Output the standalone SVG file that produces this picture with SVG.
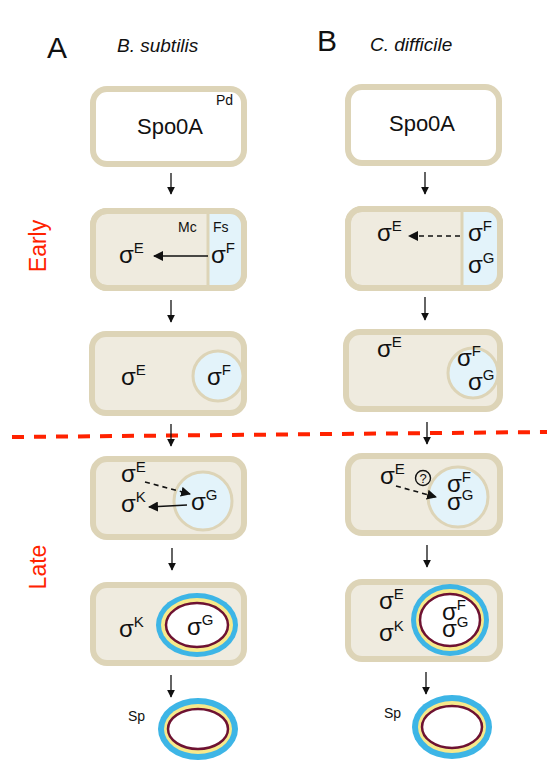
<svg xmlns="http://www.w3.org/2000/svg" width="547" height="762" viewBox="0 0 547 762">
  <defs>
    <style>
      .cell { fill: #efebdf; stroke: #ddd4b7; stroke-width: 6; }
      .cell-white { fill: #ffffff; stroke: #ddd4b7; stroke-width: 6; }
      .fs { fill: #e3f3fa; stroke: #ddd4b7; stroke-width: 3; }
      .div { stroke: #ddd4b7; stroke-width: 3; }
      .t { font-family: "Liberation Sans", Arial, sans-serif; fill: #111; }
      .sig { font-family: "Liberation Sans", Arial, sans-serif; font-size: 24px; fill: #111; }
      .sup { font-size: 15px; }
      .lbl { font-family: "Liberation Sans", Arial, sans-serif; font-size: 14px; fill: #111; }
      .step { stroke: #111; stroke-width: 1.3; fill: none; }
      .solid { stroke: #111; stroke-width: 1.6; fill: none; }
      .dash { stroke: #111; stroke-width: 1.6; fill: none; stroke-dasharray: 5 4; }
      .coat { fill: #3db5e6; }
      .cortex { fill: #f7e98b; }
      .core { fill: #ffffff; stroke: #6e1232; stroke-width: 2.5; }
      .phase { font-family: "Liberation Sans", Arial, sans-serif; font-size: 23px; fill: #ff2200; }
    </style>
    <marker id="head" viewBox="0 0 10 10" refX="9" refY="5" markerWidth="8" markerHeight="8" markerUnits="userSpaceOnUse" orient="auto">
      <path d="M0,0 L10,5 L0,10 Z" fill="#111"/>
    </marker>
    <marker id="head2" viewBox="0 0 10 10" refX="9" refY="5" markerWidth="10" markerHeight="10" markerUnits="userSpaceOnUse" orient="auto">
      <path d="M0,0 L10,5 L0,10 Z" fill="#111"/>
    </marker>
    <clipPath id="clipA2"><rect x="93" y="211" width="151" height="77" rx="14"/></clipPath>
    <clipPath id="clipB2"><rect x="348" y="209" width="152" height="79" rx="14"/></clipPath>
  </defs>

  <!-- headers -->
  <text class="t" x="47" y="58" font-size="30">A</text>
  <text class="t" x="117" y="52" font-size="19" font-style="italic">B. subtilis</text>
  <text class="t" x="317" y="51" font-size="30">B</text>
  <text class="t" x="370" y="51" font-size="19" font-style="italic">C. difficile</text>

  <!-- phase labels -->
  <text class="phase" transform="translate(46,246) rotate(-90)" text-anchor="middle">Early</text>
  <text class="phase" transform="translate(46,567) rotate(-90)" text-anchor="middle">Late</text>

  <!-- early / late boundary -->
  <line x1="12" y1="437" x2="547" y2="432" stroke="#ff2200" stroke-width="4" stroke-dasharray="12 10"/>

  <!-- column A: B. subtilis -->
  <g id="a-predivisional">
    <rect class="cell-white" x="93" y="89" width="151" height="75" rx="14"/>
    <text class="t" x="170" y="134" font-size="22" text-anchor="middle">Spo0A</text>
    <text class="lbl" x="216" y="105">Pd</text>
  </g>

  <g id="a-septation">
    <rect class="cell" x="93" y="211" width="151" height="77" rx="14"/>
    <rect x="208" y="205" width="42" height="90" fill="#e3f3fa" clip-path="url(#clipA2)"/>
    <rect x="93" y="211" width="151" height="77" rx="14" fill="none" stroke="#ddd4b7" stroke-width="6"/>
    <line class="div" x1="208" y1="212" x2="208" y2="287"/>
    <text class="lbl" x="178" y="232">Mc</text>
    <text class="lbl" x="213" y="232">Fs</text>
    <text class="sig" x="119" y="263">σ<tspan class="sup" dy="-10">E</tspan></text>
    <text class="sig" x="211" y="263">σ<tspan class="sup" dy="-10">F</tspan></text>
  </g>

  <g id="a-engulfment">
    <rect class="cell" x="92" y="334" width="152" height="79" rx="14"/>
    <circle class="fs" cx="218" cy="376" r="25"/>
    <text class="sig" x="121" y="385">σ<tspan class="sup" dy="-10">E</tspan></text>
    <text class="sig" x="207" y="385">σ<tspan class="sup" dy="-10">F</tspan></text>
  </g>

  <g id="a-engulfed">
    <rect class="cell" x="93" y="459" width="151" height="78" rx="14"/>
    <circle class="fs" cx="203" cy="501" r="29"/>
    <text class="sig" x="121" y="482">σ<tspan class="sup" dy="-10">E</tspan></text>
    <text class="sig" x="121" y="512">σ<tspan class="sup" dy="-10">K</tspan></text>
    <text class="sig" x="191" y="510">σ<tspan class="sup" dy="-10">G</tspan></text>
  </g>

  <g id="a-maturation">
    <rect class="cell" x="93" y="585" width="151" height="78" rx="14"/>
    <ellipse class="coat" cx="197" cy="625" rx="41" ry="32"/>
    <ellipse class="cortex" cx="197" cy="625" rx="36" ry="27"/>
    <ellipse class="core" cx="197" cy="625" rx="31" ry="22"/>
    <text class="sig" x="119" y="637">σ<tspan class="sup" dy="-10">K</tspan></text>
    <text class="sig" x="187" y="635">σ<tspan class="sup" dy="-10">G</tspan></text>
  </g>

  <g id="a-spore">
    <text class="lbl" x="128" y="721">Sp</text>
    <ellipse class="coat" cx="198" cy="729" rx="40" ry="31"/>
    <ellipse class="cortex" cx="198" cy="729" rx="34" ry="25"/>
    <ellipse class="core" cx="198" cy="729" rx="30" ry="20"/>
  </g>

  <!-- column B: C. difficile -->
  <g id="b-predivisional">
    <rect class="cell-white" x="348" y="87" width="151" height="76" rx="14"/>
    <text class="t" x="422" y="131" font-size="22" text-anchor="middle">Spo0A</text>
  </g>

  <g id="b-septation">
    <rect class="cell" x="348" y="209" width="152" height="79" rx="14"/>
    <rect x="462" y="203" width="42" height="92" fill="#e3f3fa" clip-path="url(#clipB2)"/>
    <rect x="348" y="209" width="152" height="79" rx="14" fill="none" stroke="#ddd4b7" stroke-width="6"/>
    <line class="div" x1="462" y1="210" x2="462" y2="287"/>
    <text class="sig" x="377" y="241">σ<tspan class="sup" dy="-10">E</tspan></text>
    <text class="sig" x="468" y="241">σ<tspan class="sup" dy="-10">F</tspan></text>
    <text class="sig" x="468" y="273">σ<tspan class="sup" dy="-10">G</tspan></text>
  </g>

  <g id="b-engulfment">
    <rect class="cell" x="346" y="332" width="154" height="77" rx="14"/>
    <circle class="fs" cx="473" cy="373" r="25"/>
    <text class="sig" x="377" y="357">σ<tspan class="sup" dy="-10">E</tspan></text>
    <text class="sig" x="457" y="366">σ<tspan class="sup" dy="-10">F</tspan></text>
    <text class="sig" x="468" y="390">σ<tspan class="sup" dy="-10">G</tspan></text>
  </g>

  <g id="b-engulfed">
    <rect class="cell" x="348" y="456" width="152" height="77" rx="14"/>
    <circle class="fs" cx="458" cy="497" r="30"/>
    <text class="sig" x="380" y="484">σ<tspan class="sup" dy="-10">E</tspan></text>
    <circle cx="423" cy="478" r="7.5" fill="none" stroke="#111" stroke-width="1.4"/>
    <text class="t" x="423" y="483" font-size="13" text-anchor="middle">?</text>
    <text class="sig" x="447" y="492">σ<tspan class="sup" dy="-10">F</tspan></text>
    <text class="sig" x="447" y="510">σ<tspan class="sup" dy="-10">G</tspan></text>
  </g>

  <g id="b-maturation">
    <rect class="cell" x="348" y="582" width="152" height="77" rx="14"/>
    <ellipse class="coat" cx="450" cy="620" rx="39" ry="36"/>
    <ellipse class="cortex" cx="450" cy="620" rx="34" ry="31"/>
    <ellipse class="core" cx="450" cy="620" rx="30" ry="26"/>
    <text class="sig" x="379" y="609">σ<tspan class="sup" dy="-10">E</tspan></text>
    <text class="sig" x="379" y="641">σ<tspan class="sup" dy="-10">K</tspan></text>
    <text class="sig" x="442" y="620">σ<tspan class="sup" dy="-10">F</tspan></text>
    <text class="sig" x="442" y="637">σ<tspan class="sup" dy="-10">G</tspan></text>
  </g>

  <g id="b-spore">
    <text class="lbl" x="384" y="718">Sp</text>
    <ellipse class="coat" cx="452" cy="727" rx="40" ry="32"/>
    <ellipse class="cortex" cx="452" cy="727" rx="34" ry="26"/>
    <ellipse class="core" cx="452" cy="727" rx="30" ry="21"/>
  </g>

  <!-- connectors -->
  <g id="connectors">
    <!-- stage progression, column A -->
    <line class="step" x1="171" y1="173" x2="171" y2="194" marker-end="url(#head)"/>
    <line class="step" x1="171" y1="300" x2="171" y2="322" marker-end="url(#head)"/>
    <line class="step" x1="171" y1="424" x2="171" y2="446" marker-end="url(#head)"/>
    <line class="step" x1="172" y1="548" x2="172" y2="570" marker-end="url(#head)"/>
    <line class="step" x1="171" y1="675" x2="171" y2="697" marker-end="url(#head)"/>
    <!-- stage progression, column B -->
    <line class="step" x1="425" y1="172" x2="425" y2="194" marker-end="url(#head)"/>
    <line class="step" x1="425" y1="297" x2="425" y2="320" marker-end="url(#head)"/>
    <line class="step" x1="427" y1="422" x2="427" y2="444" marker-end="url(#head)"/>
    <line class="step" x1="427" y1="545" x2="427" y2="567" marker-end="url(#head)"/>
    <line class="step" x1="426" y1="672" x2="426" y2="694" marker-end="url(#head)"/>
    <!-- signalling between compartments -->
    <line class="solid" x1="208" y1="256" x2="154" y2="256" marker-end="url(#head2)"/>
    <line class="dash" x1="460" y1="236" x2="409" y2="236" marker-end="url(#head2)"/>
    <line class="dash" x1="145" y1="482" x2="190" y2="494" marker-end="url(#head2)"/>
    <line class="solid" x1="187" y1="505" x2="149" y2="507" marker-end="url(#head2)"/>
    <line class="dash" x1="396" y1="486" x2="436" y2="497" marker-end="url(#head2)"/>
  </g>
</svg>
